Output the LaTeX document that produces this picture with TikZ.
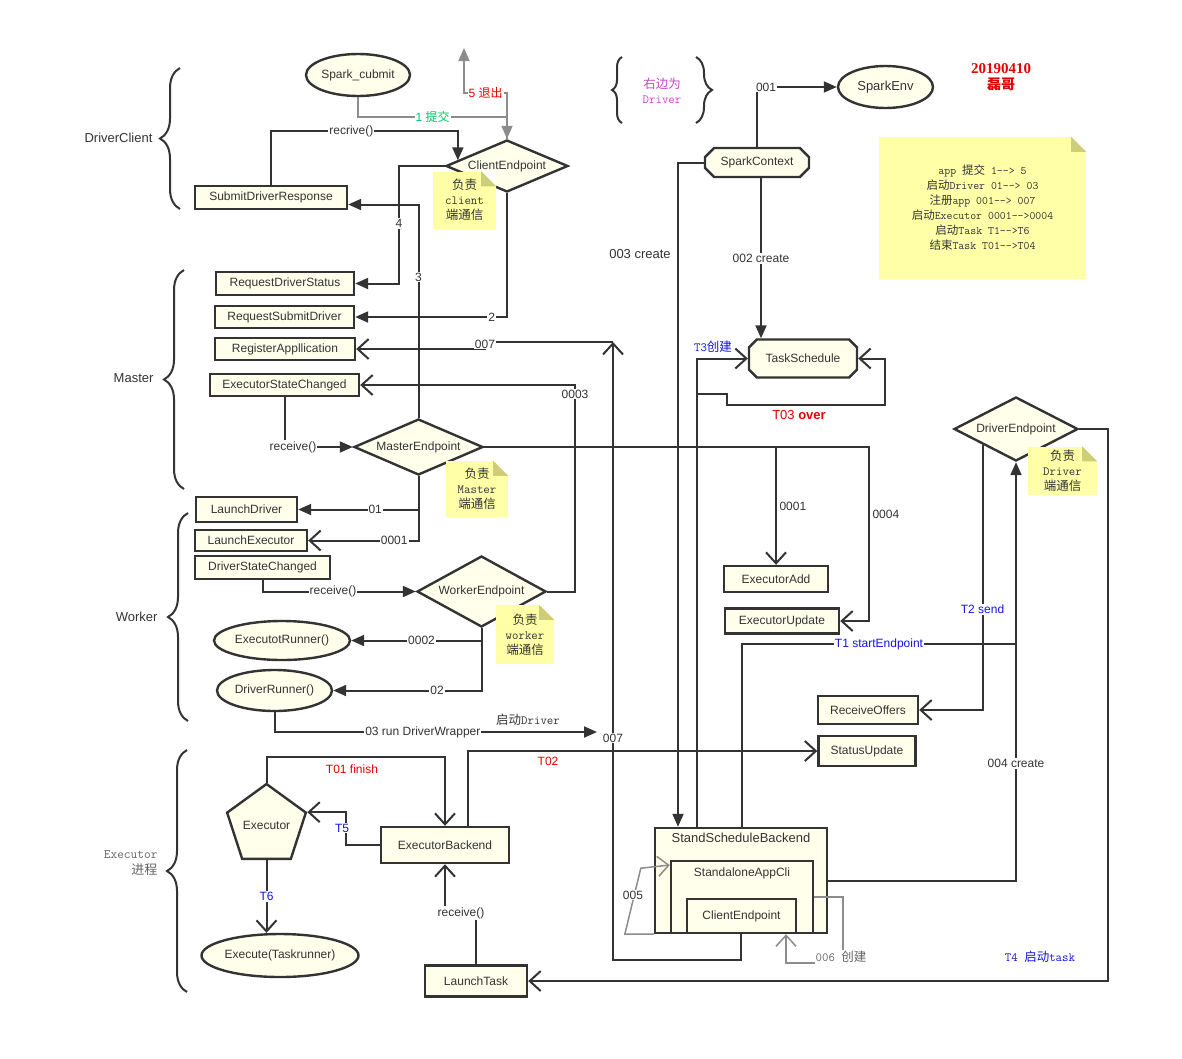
\documentclass[tikz,border=0pt]{standalone}
\usepackage{fontspec}
\setmainfont{Liberation Sans}
\newfontfamily\cjk{Noto Sans CJK SC}
\newfontfamily\serifbold{Liberation Serif}
\usepackage{tikz}
\usetikzlibrary{arrows.meta,positioning,calc,shapes.geometric,shapes.misc,decorations.pathreplacing}
\newcommand{\zhtxt}[1]{{\cjk #1}}
\definecolor{linec}{RGB}{51,51,51}
\definecolor{boxfill}{RGB}{255,255,236}
\definecolor{notefill}{RGB}{255,255,168}
\definecolor{notefold}{RGB}{206,206,120}
\definecolor{thinc}{RGB}{140,140,140}
\definecolor{lblgreen}{RGB}{0,200,100}
\definecolor{lblred}{RGB}{230,0,0}
\definecolor{lblblue}{RGB}{20,20,225}
\definecolor{lblpink}{RGB}{204,68,204}
\definecolor{lblgray}{RGB}{100,100,100}

\begin{document}
\begin{tikzpicture}[x=1pt, y=-1pt,
  every node/.style={font=\fontsize{12pt}{14pt}\selectfont, text=linec},
  box/.style={draw=linec, line width=2.4pt, fill=boxfill, inner sep=0pt},
  ell/.style={box, ellipse},
  dia/.style={box, diamond},
  oct/.style={box, chamfered rectangle, chamfered rectangle xsep=9pt},
  note/.style={fill=notefill, align=center, inner sep=0pt, font=\fontsize{12.5pt}{15pt}\selectfont\ttfamily},
  conn/.style={draw=linec, line width=2pt},
  thinline/.style={draw=thinc, line width=1.5pt},
  fa/.style={-{Triangle[length=13pt,width=11pt]}},
  oa/.style={-{Straight Barb[length=11pt,width=20pt]}},
  lab/.style={fill=white, inner sep=1pt},
  big/.style={font=\fontsize{13pt}{15pt}\selectfont},
  serif/.style={font=\fontsize{12.5pt}{15pt}\selectfont\ttfamily},
  brc/.style={draw=linec, line width=2pt, decorate, decoration={brace, amplitude=#1}},
  brc/.default=20pt
]
\useasboundingbox[fill=white] (0,0) rectangle (1182,1058);

% driver client
\node[ell, minimum width=104pt, minimum height=42pt] (spark) at (358,75) {Spark\_cubmit};
\node[dia, aspect=2.35, minimum width=122pt, minimum height=52pt] (cliEp) at (507,166) {ClientEndpoint};
\node[box, minimum width=152pt, minimum height=23pt] (subResp) at (271,197.5) {SubmitDriverResponse};

% master
\node[box, minimum width=138pt, minimum height=23pt] (reqStatus) at (285,283.5) {RequestDriverStatus};
\node[box, minimum width=139pt, minimum height=22pt] (reqSubmit) at (284.5,317) {RequestSubmitDriver};
\node[box, minimum width=140pt, minimum height=22pt] (regApp) at (285,349) {RegisterAppllication};
\node[box, minimum width=149pt, minimum height=22pt] (exState) at (284.5,385) {ExecutorStateChanged};
\node[dia, aspect=2.3, minimum width=129pt, minimum height=56pt] (masterEp) at (418.5,447) {MasterEndpoint};

% worker
\node[box, minimum width=101pt, minimum height=25pt] (lDriver) at (246.5,509.5) {LaunchDriver};
\node[box, minimum width=112pt, minimum height=21pt] (lExec) at (251,540.5) {LaunchExecutor};
\node[box, minimum width=135pt, minimum height=23pt] (drvState) at (262.5,567.5) {DriverStateChanged};
\node[dia, aspect=1.8, minimum width=129pt, minimum height=71pt] (workerEp) at (481.5,591.5) {WorkerEndpoint};
\node[ell, minimum width=136pt, minimum height=39pt] (exRunner) at (282,640.5) {ExecutotRunner()};
\node[ell, minimum width=115pt, minimum height=41pt] (drvRunner) at (274.5,690.5) {DriverRunner()};

% driver side
\node[ell, big, minimum width=95pt, minimum height=42pt] (sparkEnv) at (885.5,87) {SparkEnv};
\node[oct, minimum width=104pt, minimum height=29pt] (sparkCtx) at (757,162.5) {SparkContext};
\node[oct, minimum width=108pt, minimum height=38pt] (taskSch) at (803,358.5) {TaskSchedule};
\node[dia, aspect=1.94, minimum width=124pt, minimum height=64pt] (driverEp) at (1016,429) {DriverEndpoint};
\node[box, minimum width=104pt, minimum height=26pt] (exAdd) at (776,579) {ExecutorAdd};
\node[box, minimum width=114pt, minimum height=25pt] (exUpd) at (782,621) {ExecutorUpdate};
\node[box, minimum width=100pt, minimum height=28pt] (recvOff) at (868,710) {ReceiveOffers};
\node[box, minimum width=97pt, minimum height=30pt] (statUpd) at (867,751) {StatusUpdate};
\node[box, minimum width=172pt, minimum height=105pt,
  label={[anchor=north, yshift=-3pt, big]north:StandScheduleBackend}] (standSch) at (741,880.5) {};
\node[box, minimum width=142pt, minimum height=72pt,
  label={[anchor=north, yshift=-4pt]north:StandaloneAppCli}] (appCli) at (742,897) {};
\node[box, minimum width=109pt, minimum height=34pt] (cliEp2) at (741.5,916) {ClientEndpoint};

% executor
\node[box, regular polygon, regular polygon sides=5, minimum size=78pt] (executor) at (266.5,825.4) {Executor};
\node[box, minimum width=128pt, minimum height=36pt] (exBack) at (445,845) {ExecutorBackend};
\node[ell, minimum width=157pt, minimum height=43pt] (execute) at (280,955.5) {Execute(Taskrunner)};
\node[box, minimum width=102pt, minimum height=31pt] (lTask) at (476,981) {LaunchTask};

% notes
\node[note, minimum width=63pt, minimum height=57pt] (noteCli) at (464.5,200) {\zhtxt{负责}\\client\\\zhtxt{端通信}};
\node[note, minimum width=62pt, minimum height=56pt] (noteMas) at (477,489) {\zhtxt{负责}\\Master\\\zhtxt{端通信}};
\node[note, minimum width=58pt, minimum height=59pt] (noteWor) at (525,634.5) {\zhtxt{负责}\\worker\\\zhtxt{端通信}};
\node[note, minimum width=69pt, minimum height=48pt] (noteDrv) at (1062.5,470.5) {\zhtxt{负责}\\Driver\\\zhtxt{端通信}};
\node[note, minimum width=207pt, minimum height=142pt, font=\fontsize{11.5pt}{15pt}\selectfont\ttfamily] (noteAll) at (982.5,208)
  {app \zhtxt{提交} 1-{}-> 5\\\zhtxt{启动}Driver 01-{}-> 03\\\zhtxt{注册}app 001-{}-> 007\\
   \zhtxt{启动}Executor 0001-{}->0004\\\zhtxt{启动}Task T1-{}->T6\\\zhtxt{结束}Task T01-{}->T04};
\foreach \n in {noteCli,noteMas,noteWor,noteDrv,noteAll} {
  \fill[white] ([xshift=-15pt]\n.north east) -- (\n.north east) -- ([yshift=-15pt]\n.north east) -- cycle;
  \fill[notefold] ([xshift=-15pt]\n.north east) -- ([yshift=-15pt]\n.north east) -- ([xshift=-15pt,yshift=-15pt]\n.north east) -- cycle;
}

% group labels
\node[big, anchor=east] (lblClient) at (156,138) {DriverClient};
\node[big, anchor=east] (lblMaster) at (157,378) {Master};
\node[big, anchor=east] (lblWorker) at (161,617) {Worker};
\node[anchor=east, align=right, text=lblgray, font=\fontsize{13pt}{16pt}\selectfont\ttfamily] (lblExec) at (161,863) {Executor\\\zhtxt{进程}};
\node[align=center, text=lblpink, font=\fontsize{12.5pt}{15pt}\selectfont\ttfamily] (lblRight) at (662,91) {\zhtxt{右边为}\\Driver};
\node[align=center, text=lblred, font=\fontsize{15pt}{16pt}\selectfont\serifbold\bfseries] (lblDate) at (1001,77) {20190410\\{\cjk\fontsize{14pt}{16pt}\selectfont 磊哥}};
\draw[brc] (180,209) -- (180,68);
\draw[brc] (184,489) -- (184,270);
\draw[brc] (188,721) -- (188,513);
\draw[brc] (187,992) -- (187,750);
\draw[brc=10pt] (622,123) -- (622,57);
\draw[brc=16pt] (696,57) -- (696,123);

% client side
\coordinate (quitEnd) at (464,48);
\coordinate (cliIn) at ($(cliEp.west)!0.21!(cliEp.north)$);
\draw[thinline, fa] (spark.south) |- node[lab, pos=0.75, text=lblgreen]{1 \zhtxt{提交}} (cliEp.north |- 0,117) -- (cliEp.north);
\draw[thinline, fa] (cliEp.north) |- node[lab, pos=0.75, text=lblred]{5 \zhtxt{退出}} (quitEnd |- 0,93) -- (quitEnd);
\draw[conn, fa] (subResp.north) |- node[lab, pos=0.715]{recrive()} (cliIn |- 0,131) -- (cliIn);
\draw[conn, fa] (cliEp.west) -| node[lab, pos=0.745]{4} (reqStatus.east -| 399,0) -- (reqStatus.east);
\draw[conn, fa] (masterEp.north) |- node[lab, pos=0.33]{3} ([yshift=-7pt]subResp.east);
\draw[conn, fa] (cliEp.south) |- node[lab, pos=0.55]{2} (reqSubmit.east);

% master side
\coordinate (regCorner) at (613,342);
\draw[conn, oa] (standSch.south) |- (regCorner |- 0,960) -- (regCorner);
\draw[conn, oa] (regCorner) -- (485,342) |- (regApp.east);
\node[lab] at (485,344) {007};
\draw[conn, oa] (workerEp.east) -| (exState.east -| 575,0) -- (exState.east);
\node[lab] at (575,394) {0003};
\draw[conn, fa] (exState.south) |- (masterEp.west);
\node[lab] at (293,447) {receive()};
\draw[conn, fa] (masterEp.south) |- node[lab, pos=0.68]{01} (lDriver.east);
\draw[conn, oa] (masterEp.south) |- node[lab, pos=0.61]{0001} (lExec.east);
\draw[conn, oa] (masterEp.east) -| (exUpd.east -| 869,0) -- (exUpd.east);
\draw[conn, oa] (masterEp.east -| exAdd.north) -- (exAdd.north);
\node[anchor=west] at (869,514) {0004};
\node[anchor=west] at (776,506) {0001};

% worker side
\coordinate (wrapEnd) at (597,732);
\draw[conn, fa] (drvState.south) |- node[lab, pos=0.73]{receive()} (workerEp.west);
\draw[conn, fa] (workerEp.south) |- node[lab, pos=0.73]{0002} (exRunner.east);
\draw[conn, fa] (workerEp.south) |- node[lab, pos=0.65]{02} (drvRunner.east);
\draw[conn, fa] (drvRunner.south) |- node[lab, pos=0.73]{03 run DriverWrapper} (wrapEnd);
\node[serif] at (528,720) {\zhtxt{启动}Driver};
\node[lab] at (613,738) {007};

% driver side
\draw[conn, fa] (sparkCtx.north) |- node[lab, pos=0.5, anchor=west, xshift=-3pt]{001} (sparkEnv.west);
\draw[conn, fa] ([xshift=4pt]sparkCtx.south) -- node[lab]{002 create} ([xshift=4pt]sparkCtx.south |- taskSch.north);
\draw[conn, fa] (sparkCtx.west) -| ([xshift=-63pt]standSch.north);
\node[big] at (640,254) {003 create};
\draw[conn, oa] ([xshift=-44pt]standSch.north) |- (taskSch.west);
\node[serif, text=lblblue] at (713,347) {T3\zhtxt{创建}};
\coordinate (overStart) at (697,394);
\draw[conn, oa] (overStart) -- (727,394) -- (727,405) -| (taskSch.east -| 885,0) -- (taskSch.east);
\node[big, text=lblred] at (799,415) {T03 \textbf{over}};
\coordinate (t1Join) at (1016,644);
\draw[conn] ([xshift=1pt]standSch.north) |- node[lab, pos=0.75, text=lblblue]{T1 startEndpoint} (t1Join);
\draw[conn, fa] (standSch.east) -| node[lab, pos=0.64]{004 create} (driverEp.south);
\coordinate (sendStart) at ($(driverEp.west)!0.47!(driverEp.south)$);
\draw[conn, oa] (sendStart) |- node[lab, pos=0.31, text=lblblue]{T2 send} (recvOff.east);
\draw[conn, oa] (driverEp.east) -| (lTask.east -| 1108,0) -- (lTask.east);
\node[serif, text=lblblue] at (1040,957) {T4 \zhtxt{启动}task};
\draw[thinline, oa] (standSch.south west) -- ++(-29,0) -- ++(16,-66) -- ([yshift=32pt]appCli.west);
\node[lab] at (633,895) {005};
\draw[thinline, oa] (appCli.east) -- ++(29,0) -- ++(0,66) -| ([xshift=44.5pt]cliEp2.south);
\node[lab, serif, text=lblgray] at (841,957) {006 \zhtxt{创建}};

% executor side
\draw[conn, oa] ([xshift=23pt]exBack.north) |- (statUpd.west);
\node[text=lblred] at (548,761) {T02};
\draw[conn, oa] (executor.corner 1) |- (exBack.north |- 0,757) -- (exBack.north);
\node[text=lblred] at (352,769) {T01 finish};
\draw[conn, oa] (exBack.west) -| ([xshift=39pt]executor.corner 5) -- (executor.corner 5);
\node[lab, text=lblblue] at (342,828) {T5};
\draw[conn, oa] (executor.side 3) -- node[lab, text=lblblue]{T6} (executor.side 3 |- execute.north);
\draw[conn, oa] (lTask.north) |- (exBack.south |- 0,913) -- (exBack.south);
\node[lab] at (461,913) {receive()};
\end{tikzpicture}
\end{document}
